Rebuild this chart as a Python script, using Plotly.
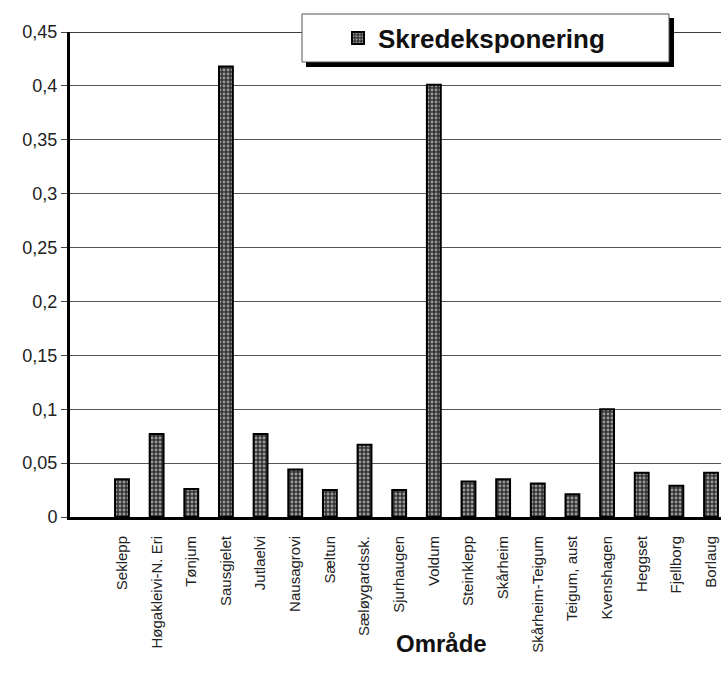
import plotly.graph_objects as go

# Avalanche exposure per area
omrader = [
    "Seklepp", "Høgakleivi-N. Eri", "Tønjum", "Sausgjelet", "Jutlaelvi",
    "Nausagrovi", "Sæltun", "Sæløygardssk.", "Sjurhaugen", "Voldum",
    "Steinklepp", "Skårheim", "Skårheim-Teigum", "Teigum, aust",
    "Kvenshagen", "Heggset", "Fjellborg", "Borlaug",
]
skredeksponering = [
    0.035, 0.077, 0.026, 0.418, 0.077,
    0.044, 0.025, 0.067, 0.025, 0.401,
    0.033, 0.035, 0.031, 0.021,
    0.100, 0.041, 0.029, 0.041,
]
y_ticks = [0, 0.05, 0.1, 0.15, 0.2, 0.25, 0.3, 0.35, 0.4, 0.45]

W, H = 721, 677
L, T, B, R = 70, 32, 160, 0
pw, ph = W - L - R, H - T - B


def px(x):
    return (x - L) / pw


def py(y):
    return (H - B - y) / ph


FONT = "Liberation Sans, Arial, sans-serif"

fig = go.Figure()
fig.add_trace(go.Bar(
    x=omrader,
    y=skredeksponering,
    name="Skredeksponering",
    width=0.4,
    marker=dict(
        color="#333",
        line=dict(color="black", width=2),
        pattern=dict(shape=".", fgcolor="white", bgcolor="#333",
                     size=4, solidity=0.4),
    ),
))

shapes = [
    # frame line along the top of the plot area
    dict(type="line", xref="paper", yref="y", x0=0, x1=1, y0=0.45, y1=0.45,
         line=dict(color="black", width=1.5), layer="above"),
    # legend box drop shadow
    dict(type="rect", xref="paper", yref="paper",
         x0=px(306), x1=px(674), y0=py(67), y1=py(18),
         fillcolor="black", line=dict(width=0), layer="above"),
    # legend box
    dict(type="rect", xref="paper", yref="paper",
         x0=px(302), x1=px(669), y0=py(62), y1=py(14),
         fillcolor="white", line=dict(color="#555", width=1), layer="above"),
]

fig.update_layout(
    width=W, height=H,
    margin=dict(l=L, r=R, t=T, b=B, pad=0),
    paper_bgcolor="white",
    plot_bgcolor="white",
    separators=", ",
    font=dict(family=FONT, color="#222"),
    showlegend=True,
    legend=dict(
        x=px(338), xanchor="left", y=py(38), yanchor="middle",
        bgcolor="rgba(0,0,0,0)", borderwidth=0,
        font=dict(family=FONT, size=26, color="#111", weight="bold"),
    ),
    shapes=shapes,
    annotations=[dict(
        text="<b>Område</b>", xref="paper", yref="paper",
        x=px(441), y=py(643), xanchor="center", yanchor="middle",
        showarrow=False, font=dict(family=FONT, size=24, color="#111"),
    )],
    xaxis=dict(
        type="category",
        range=[-1.5, (W - L) / 34.65 - 1.5],
        tickangle=-90,
        tickfont=dict(family=FONT, size=15, color="#222"),
        showline=True, linecolor="black", linewidth=3,
        ticks="outside", ticklen=10, tickcolor="rgba(0,0,0,0)",
        showgrid=False,
    ),
    yaxis=dict(
        range=[0, 0.45],
        tickvals=y_ticks,
        tickfont=dict(family=FONT, size=18, color="#222"),
        ticks="outside", ticklen=6, tickcolor="#444", tickwidth=1,
        showline=True, linecolor="black", linewidth=3,
        showgrid=True, gridcolor="#555", gridwidth=1,
        zeroline=False,
    ),
)

fig.write_html("out.html")
